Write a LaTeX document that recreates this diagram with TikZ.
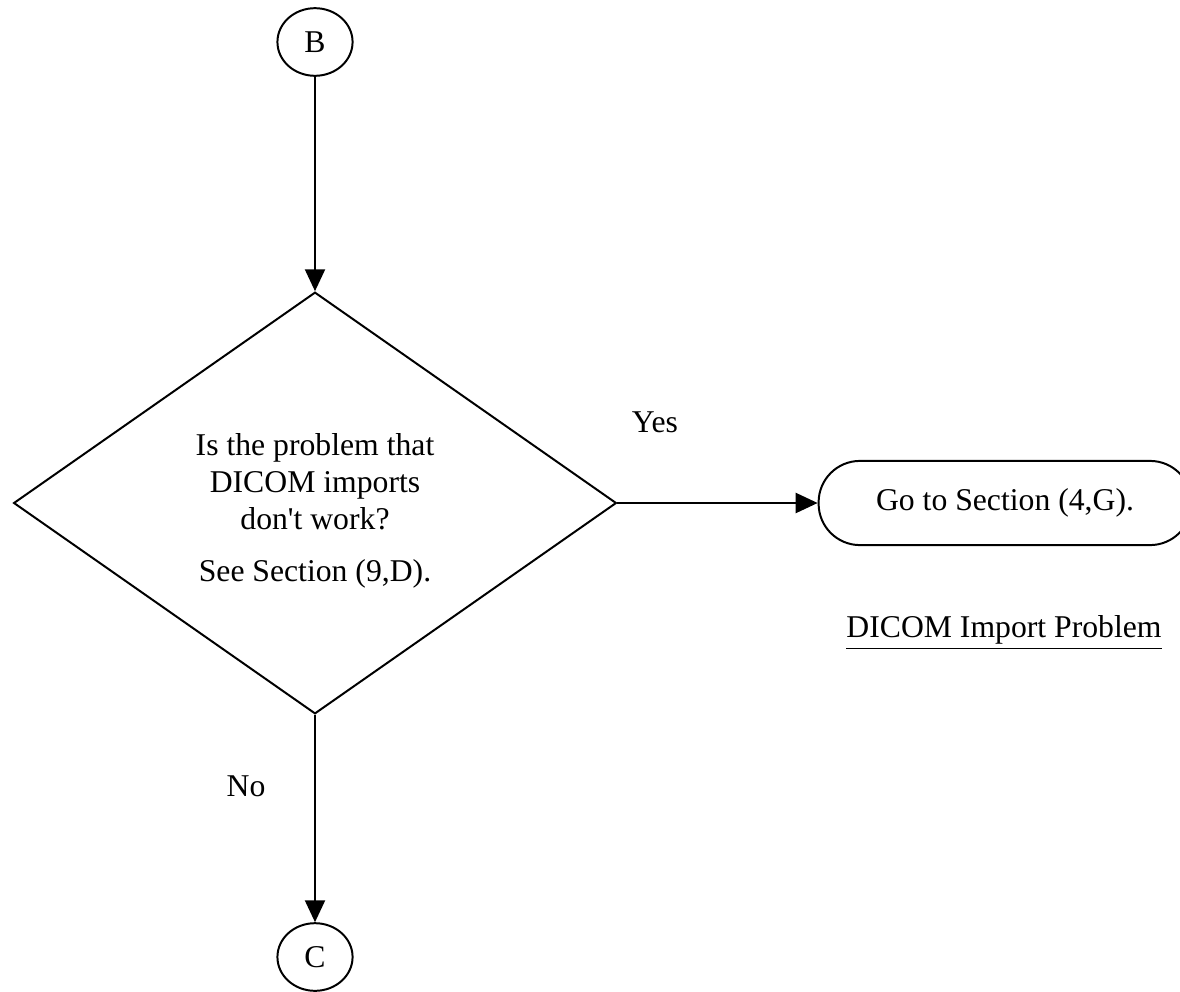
\documentclass[tikz,border=0pt]{standalone}
\usepackage{fontspec}
\setmainfont{Liberation Serif}
\usetikzlibrary{shapes.geometric,arrows.meta}

\tikzset{
  conn/.style={ellipse, draw, line width=0.75pt, minimum width=1cm, minimum height=0.9cm, inner sep=0pt},
  decision/.style={diamond, draw, line width=0.75pt, minimum width=8.02cm, minimum height=5.61cm, inner sep=0pt},
  terminal/.style={rectangle, draw, line width=0.75pt, rounded corners=0.55cm, minimum width=4.96cm, minimum height=1.12cm},
  flow/.style={line width=0.75pt, -{Triangle[length=8.3pt,width=7.6pt]}},
  txt/.style={font=\fontsize{12}{13.9}\selectfont},
}

\begin{document}
\begin{tikzpicture}[x=0.0133cm, y=-0.0133cm, every node/.style={txt}]
    \useasboundingbox (0,0) rectangle (1180,991);

    % Verbinder oben / unten
    \node[conn] (b) at (315,42) {B};
    \node[conn] (c) at (315,957) {C};

    % Entscheidung
    \node[decision] (q) at (315,503) {};
    \node[align=center] (qtext) at (315,511) {Is the problem that\\DICOM imports\\don\textquotesingle t work?\\[5.8pt]See Section (9,D).};

    % Ziel
    \node[terminal] (go) at (1005,503) {Go to Section (4,G).};
    \node (title) at (1004,633) {\underline{DICOM Import Problem}};

    % Beschriftungen
    \node (yes) at (655,422) {Yes};
    \node (no) at (246,786) {No};

    % Pfeile
    \draw[flow] (b) -- (q.north);
    \draw[flow] (q.east) -- (go.west);
    \draw[flow] (q.south) -- (c);
\end{tikzpicture}
\end{document}
